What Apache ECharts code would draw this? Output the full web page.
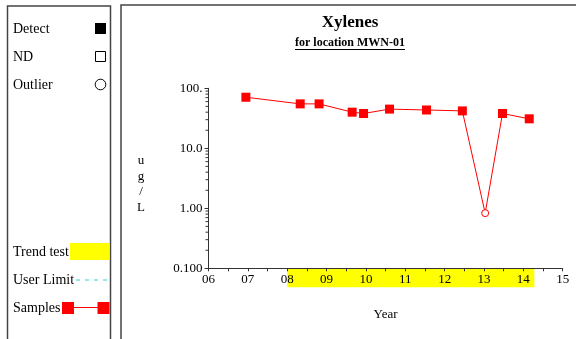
<!DOCTYPE html>
<html>
<head>
<meta charset="utf-8">
<script src="https://cdn.jsdelivr.net/npm/echarts@6/dist/echarts.min.js"></script>
<style>
  html, body { margin: 0; padding: 0; background: #fff; }
  #chart { width: 576px; height: 339px; }
</style>
</head>
<body>
<div id="chart"></div>
<script>
// Xylenes concentrations, location MWN-01 (decimal calendar years)
const sampleYears  = [2006.95, 2008.33, 2008.81, 2009.65, 2009.94, 2010.60, 2011.54, 2012.45, 2013.03, 2013.47, 2014.15];
const sampleValues = [71, 55, 55, 40, 38, 45, 43.5, 42, 0.83, 38, 31];
const outlierFlags = [false, false, false, false, false, false, false, false, true, false, false];

// trend test period
const trendStart = 2008.0;
const trendEnd   = 2014.28;

// axis ticks
const yTickValues = [0.1, 1, 10, 100];
const yTickLabels = ['0.100', '1.00', '10.0', '100.'];
const yMinorValues = [];
for (let d = -1; d < 2; d++) {
  for (let m = 2; m <= 9; m++) yMinorValues.push(m * Math.pow(10, d));
}

const SERIF = "'Liberation Serif', 'Times New Roman', serif";
const RED = '#ff0000';
const AXIS = '#333';

const chart = echarts.init(document.getElementById('chart'), null, { renderer: 'canvas' });

const sampleData = sampleYears.map((x, i) => {
  const item = { value: [x, sampleValues[i]] };
  if (outlierFlags[i]) {
    item.symbol = 'circle';
    item.symbolSize = 7;
    item.itemStyle = { color: '#fff', borderColor: RED, borderWidth: 1 };
  }
  return item;
});

// underline width for the subtitle
function textWidth(str, font) {
  const c = document.createElement('canvas').getContext('2d');
  c.font = font;
  return c.measureText(str).width;
}
const subTitle = 'for location MWN-01';
const subFont = 'bold 12px ' + SERIF;
const subW = textWidth(subTitle, subFont);
const titleCx = 350;

const graphics = [
  // legend panel frame
  { type: 'rect', shape: { x: 7.5, y: 6, width: 103, height: 345 },
    style: { fill: 'none', stroke: '#444', lineWidth: 1.5 } },
  // chart panel frame
  { type: 'rect', shape: { x: 121, y: 5, width: 470, height: 345 },
    style: { fill: 'none', stroke: '#444', lineWidth: 1.5 } },

  // legend entries
  { type: 'text', x: 13, y: 29, style: { text: 'Detect', font: '14px ' + SERIF, fill: '#000', verticalAlign: 'middle' } },
  { type: 'rect', shape: { x: 95, y: 23, width: 11, height: 11 }, style: { fill: '#000' } },
  { type: 'text', x: 13, y: 57, style: { text: 'ND', font: '14px ' + SERIF, fill: '#000', verticalAlign: 'middle' } },
  { type: 'rect', shape: { x: 95.5, y: 51.5, width: 10, height: 10 }, style: { fill: '#fff', stroke: '#000', lineWidth: 1 } },
  { type: 'text', x: 13, y: 85, style: { text: 'Outlier', font: '14px ' + SERIF, fill: '#000', verticalAlign: 'middle' } },
  { type: 'circle', shape: { cx: 100.5, cy: 84.5, r: 5.3 }, style: { fill: '#fff', stroke: '#000', lineWidth: 1 } },

  { type: 'text', x: 13, y: 252, style: { text: 'Trend test', font: '14px ' + SERIF, fill: '#000', verticalAlign: 'middle' } },
  { type: 'rect', shape: { x: 70, y: 243, width: 39.5, height: 17 }, style: { fill: '#ffff00' } },
  { type: 'text', x: 13, y: 280, style: { text: 'User Limit', font: '14px ' + SERIF, fill: '#000', verticalAlign: 'middle' } },
  { type: 'line', shape: { x1: 76, y1: 280, x2: 110, y2: 280 },
    style: { stroke: '#33cccc', lineWidth: 1, lineDash: [4, 5] } },
  { type: 'text', x: 13, y: 308, style: { text: 'Samples', font: '14px ' + SERIF, fill: '#000', verticalAlign: 'middle' } },
  { type: 'line', shape: { x1: 68, y1: 307.5, x2: 103, y2: 307.5 }, style: { stroke: RED, lineWidth: 1 } },
  { type: 'rect', shape: { x: 62, y: 302, width: 12, height: 12 }, style: { fill: RED } },
  { type: 'rect', shape: { x: 97.5, y: 302, width: 12, height: 12 }, style: { fill: RED } },

  // titles
  { type: 'text', x: titleCx, y: 23, style: { text: 'Xylenes', font: 'bold 17px ' + SERIF, fill: '#000', align: 'center', verticalAlign: 'middle' } },
  { type: 'text', x: titleCx, y: 43, style: { text: subTitle, font: subFont, fill: '#000', align: 'center', verticalAlign: 'middle' } },
  { type: 'line', shape: { x1: titleCx - subW / 2, y1: 49.5, x2: titleCx + subW / 2, y2: 49.5 }, style: { stroke: '#000', lineWidth: 1 } },

  // y axis unit, stacked
  { type: 'text', x: 141, y: 184, style: { text: 'u\ng\n/\nL', font: '13px ' + SERIF, fill: '#000', align: 'center', verticalAlign: 'middle', lineHeight: 15.5 } }
];

const option = {
  animation: false,
  backgroundColor: '#fff',
  grid: { left: 208.5, right: 13.3, top: 88.3, bottom: 70.7, containLabel: false },
  xAxis: {
    type: 'value',
    min: 2006, max: 2015, interval: 0.5,
    z: 5,
    name: 'Year', nameLocation: 'middle', nameGap: 40,
    nameTextStyle: { fontFamily: SERIF, fontSize: 13, color: '#000' },
    axisLine: { lineStyle: { color: AXIS, width: 1 } },
    axisTick: { length: 3, lineStyle: { color: AXIS } },
    splitLine: { show: false },
    axisLabel: {
      interval: 0, margin: 5, fontFamily: SERIF, fontSize: 13, color: '#000',
      showMinLabel: true, showMaxLabel: true,
      formatter: v => Math.abs(v - Math.round(v)) < 1e-6 ? String(Math.round(v) % 100).padStart(2, '0') : ''
    }
  },
  yAxis: {
    type: 'log', logBase: 10, min: 0.1, max: 100,
    z: 5,
    axisLine: { show: true, lineStyle: { color: AXIS, width: 1 } },
    axisTick: { show: true, length: 4, lineStyle: { color: AXIS } },
    splitLine: { show: false },
    axisLabel: {
      margin: 6, fontFamily: SERIF, fontSize: 13, color: '#000',
      formatter: v => {
        const i = yTickValues.findIndex(t => Math.abs(Math.log10(t) - Math.log10(v)) < 1e-6);
        return i >= 0 ? yTickLabels[i] : '';
      }
    }
  },
  graphic: graphics,
  series: [
    {
      // trend test period shown as a band under the time axis
      type: 'custom', z: 1, silent: true, clip: false,
      data: [[trendStart, yTickValues[0], trendEnd]],
      encode: { x: 0, y: 1 },
      renderItem: (params, api) => {
        const p1 = api.coord([api.value(0), api.value(1)]);
        const p2 = api.coord([api.value(2), api.value(1)]);
        return { type: 'rect', shape: { x: p1[0], y: p1[1], width: p2[0] - p1[0], height: 19 }, style: { fill: '#ffff00' } };
      }
    },
    {
      // logarithmic minor ticks on the concentration axis
      type: 'custom', z: 6, silent: true, clip: false,
      data: yMinorValues.map(v => [2006, v]),
      encode: { x: 0, y: 1 },
      renderItem: (params, api) => {
        const p = api.coord([api.value(0), api.value(1)]);
        return { type: 'line', shape: { x1: p[0] - 3, y1: p[1], x2: p[0], y2: p[1] }, style: { stroke: AXIS, lineWidth: 1 } };
      }
    },
    {
      name: 'Samples', type: 'line', z: 3,
      data: sampleData,
      symbol: 'rect', symbolSize: 9, showAllSymbol: true,
      itemStyle: { color: RED },
      lineStyle: { color: RED, width: 1 }
    }
  ]
};

chart.setOption(option);
</script>
</body>
</html>
